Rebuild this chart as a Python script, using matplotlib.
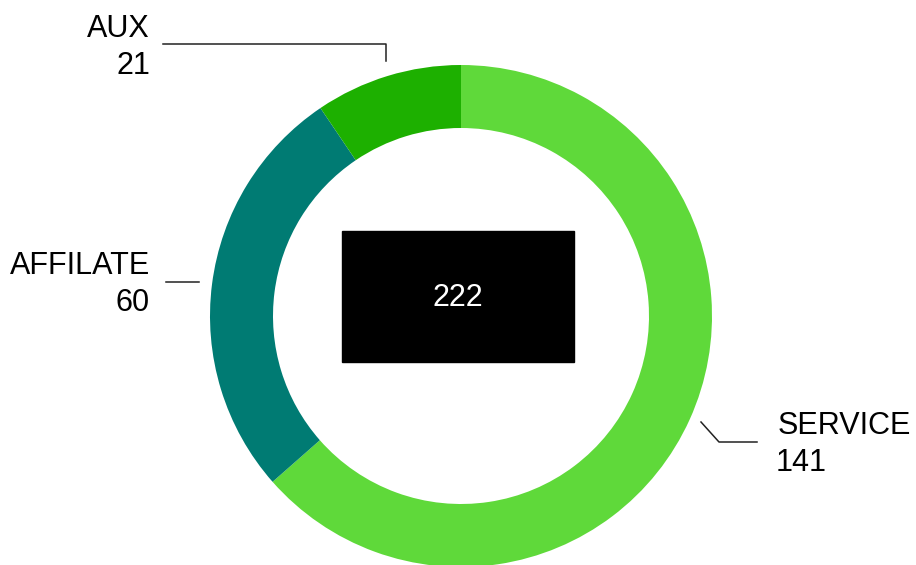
import matplotlib.pyplot as plt
from matplotlib.patches import Rectangle

plt.rcParams['font.family'] = ['Liberation Sans', 'DejaVu Sans']

categories = ['SERVICE', 'AFFILATE', 'AUX']
values = [141, 60, 21]
colors = ['#5fd93a', '#007b73', '#1db000']

H = 565  # convert image y (down) to plot y (up)

fig = plt.figure(figsize=(9.16, 5.65), dpi=100)
ax = fig.add_axes([0, 0, 1, 1])

cx, cy, r = 461, H - 316, 251
ax.pie(values, colors=colors, startangle=90, counterclock=False,
       center=(cx, cy), radius=r, frame=True,
       wedgeprops=dict(width=63, linewidth=0))
ax.set_xlim(0, 916)
ax.set_ylim(0, H)
ax.axis('off')

# centre box with total
ax.add_patch(Rectangle((342, H - 362), 232, 131, color='black', zorder=3))
ax.text(458, H - 298, str(sum(values)), color='white', fontsize=22,
        ha='center', va='center', zorder=4)

fs = 22
# label positions: (x, first baseline, ha)
label_pos = {
    'AUX': (150, 37, 'right'),
    'AFFILATE': (150, 274, 'right'),
    'SERVICE': (776, 434, 'left'),
}
leaders = {
    'AUX': [(163, 44), (386, 44), (386, 61)],
    'AFFILATE': [(166, 282), (199, 282)],
    'SERVICE': [(701, 422), (719, 442), (757, 442)],
}
for name, val in zip(categories, values):
    x, yb, ha = label_pos[name]
    ax.text(x + (2 if ha == 'left' else 0), H - yb, name, fontsize=fs,
            ha=ha, va='baseline', color='black')
    ax.text(x, H - yb - 37, str(val), fontsize=fs, ha=ha, va='baseline',
            color='black')
    pts = leaders[name]
    ax.plot([p[0] for p in pts], [H - p[1] for p in pts], color='#222222',
            linewidth=1.1)

fig.savefig('out.png', dpi=100)
